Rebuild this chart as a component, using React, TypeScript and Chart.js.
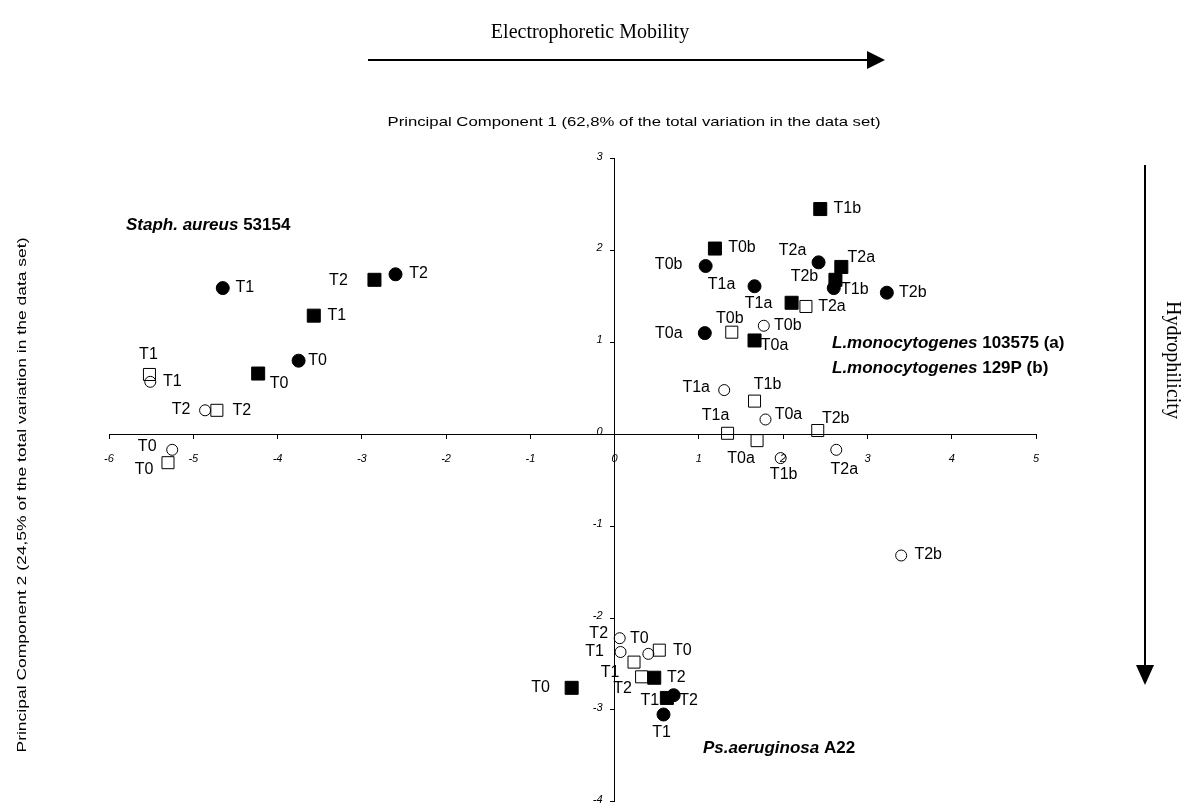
import React, { useEffect, useRef } from "react";
import { Chart, registerables } from "chart.js";

Chart.register(...registerables);

// ---- Data (PC1, PC2 scores) ----
// Filled circles
const fcX = [-4.65, -2.6, -3.75, 1.08, 1.66, 2.42, 2.6, 3.23, 1.07, 0.7, 0.58];
const fcY = [1.59, 1.74, 0.8, 1.83, 1.61, 1.87, 1.59, 1.54, 1.1, -2.84, -3.05];
const fcText = ["T1", "T2", "T0", "T0b", "T1a", "T2a", "T1b", "T2b", "T0a", "T2", "T1"];
// Filled squares
const fsX = [-3.57, -2.85, -4.23, 2.44, 1.19, 2.69, 2.62, 2.1, 1.66, 0.47, 0.62, -0.51];
const fsY = [1.29, 1.68, 0.66, 2.45, 2.02, 1.82, 1.68, 1.43, 1.02, -2.65, -2.87, -2.76];
const fsText = ["T1", "T2", "T0", "T1b", "T0b", "T2a", "T2b", "T1a", "T0a", "T2", "T1", "T0"];
// Open circles
const ocX = [-5.51, -4.86, -5.25, 1.77, 1.3, 1.79, 1.97, 2.63, 3.4, 0.06, 0.07, 0.4];
const ocY = [0.57, 0.26, -0.17, 1.18, 0.48, 0.16, -0.26, -0.17, -1.32, -2.22, -2.37, -2.39];
const ocText = ["T1", "T2", "T0", "T0b", "T1a", "T0a", "T1b", "T2a", "T2b", "T2", "T1", "T0"];
// Open squares
const osX = [-5.52, -4.72, -5.3, 1.39, 2.27, 1.66, 2.41, 1.34, 1.69, 0.53, 0.23, 0.32];
const osY = [0.65, 0.26, -0.31, 1.11, 1.39, 0.36, 0.04, 0.01, -0.07, -2.35, -2.48, -2.64];
const osText = ["T1", "T2", "T0", "T0b", "T2a", "T1b", "T2b", "T1a", "T0a", "T0", "T1", "T2"];

// Axis ranges
const xMin = -6;
const xMax = 5;
const yMin = -4;
const yMax = 3;

// ---- Label placement (pixel offsets of label centre from the marker) ----
const fcLabelOffsets = [[22, 0], [23, -1], [19, 0], [-37, -1], [-33, -2], [-26, -12], [21, 2], [26, 0], [-36, 0], [15, 5], [-2, 18]];
const fsLabelOffsets = [[23, 0], [-36, 1], [21, 10], [27, 0], [27, -1], [20, -9], [-31, -3], [-33, 1], [20, 5], [22, 0], [-17, 3], [-31, 0]];
const ocLabelOffsets = [[22, 0], [-24, -1], [-25, -3], [24, 0], [-28, -2], [23, -5], [3, 16], [8, 20], [27, -1], [-21, -5], [-26, 0], [-9, -15]];
const osLabelOffsets = [[-1, -20], [25, 0], [-24, 7], [-2, -14], [26, 0], [13, -17], [18, -12], [-12, -18], [-16, 18], [23, 0], [-24, 10], [-19, 12]];

const SANS = '"Liberation Sans", Arial, sans-serif';
const SERIF = '"Liberation Serif", "Times New Roman", serif';

const toPoints = (xs: number[], ys: number[]) => xs.map((x, i) => ({ x, y: ys[i] }));

function drawFitted(ctx: CanvasRenderingContext2D, text: string, cx: number, cy: number, width: number, rot: number) {
  ctx.save();
  ctx.translate(cx, cy);
  ctx.rotate(rot);
  const w = ctx.measureText(text).width;
  ctx.scale(width / w, 1);
  ctx.textAlign = "center";
  ctx.textBaseline = "middle";
  ctx.fillText(text, 0, 0);
  ctx.restore();
}

function drawMixed(ctx: CanvasRenderingContext2D, parts: [string, string][], x: number, y: number) {
  let cx = x;
  ctx.textAlign = "left";
  ctx.textBaseline = "middle";
  for (const [t, f] of parts) {
    ctx.font = f;
    ctx.fillText(t, cx, y);
    cx += ctx.measureText(t).width;
  }
}

const pointLabelPlugin = {
  id: "pointLabels",
  afterDatasetsDraw(chart: any) {
    const ctx = chart.ctx as CanvasRenderingContext2D;
    ctx.save();
    ctx.font = `16px ${SANS}`;
    ctx.fillStyle = "#000";
    ctx.textAlign = "center";
    ctx.textBaseline = "middle";
    chart.data.datasets.forEach((ds: any, di: number) => {
      const meta = chart.getDatasetMeta(di);
      meta.data.forEach((el: any, i: number) => {
        const off = ds.labelOffsets[i];
        ctx.fillText(ds.labelTexts[i], el.x + off[0], el.y + off[1]);
      });
    });
    ctx.restore();
  },
};

// y tick labels, placed left of the crossing y axis
const yTickLabelPlugin = {
  id: "yTickLabels",
  afterDraw(chart: any) {
    const ctx = chart.ctx as CanvasRenderingContext2D;
    const ys = chart.scales.y;
    const xs = chart.scales.x;
    const axisX = xs.getPixelForValue(0);
    ctx.save();
    ctx.font = `italic 11px ${SANS}`;
    ctx.fillStyle = "#000";
    ctx.textAlign = "right";
    ctx.textBaseline = "middle";
    ys.ticks.forEach((t: any) => {
      ctx.fillText(String(t.value), axisX - 12, ys.getPixelForValue(t.value) - 2);
    });
    ctx.restore();
  },
};

const decorPlugin = {
  id: "decor",
  afterDraw(chart: any) {
    const ctx = chart.ctx as CanvasRenderingContext2D;
    ctx.save();
    ctx.fillStyle = "#000";
    ctx.strokeStyle = "#000";

    // Electrophoretic Mobility + arrow
    ctx.font = `20px ${SERIF}`;
    ctx.textAlign = "center";
    ctx.textBaseline = "middle";
    ctx.fillText("Electrophoretic Mobility", 590, 33);
    ctx.lineWidth = 2;
    ctx.beginPath();
    ctx.moveTo(368, 60);
    ctx.lineTo(870, 60);
    ctx.stroke();
    ctx.beginPath();
    ctx.moveTo(867, 51);
    ctx.lineTo(885, 60);
    ctx.lineTo(867, 69);
    ctx.closePath();
    ctx.fill();

    // Hydrophilicity + arrow
    ctx.beginPath();
    ctx.moveTo(1145, 165);
    ctx.lineTo(1145, 668);
    ctx.stroke();
    ctx.beginPath();
    ctx.moveTo(1136, 665);
    ctx.lineTo(1145, 685);
    ctx.lineTo(1154, 665);
    ctx.closePath();
    ctx.fill();
    ctx.save();
    ctx.translate(1172, 360);
    ctx.rotate(Math.PI / 2);
    ctx.font = `20px ${SERIF}`;
    ctx.textAlign = "center";
    ctx.textBaseline = "middle";
    ctx.fillText("Hydrophilicity", 0, 0);
    ctx.restore();

    // Axis titles
    ctx.font = `13px ${SANS}`;
    drawFitted(ctx, "Principal Component 1 (62,8% of the total variation in the data set)", 634, 122, 493, 0);
    drawFitted(ctx, "Principal Component 2 (24,5% of the total variation in the data set)", 22, 495, 515, -Math.PI / 2);

    // Group names
    drawMixed(ctx, [["Staph. aureus", `italic bold 17px ${SANS}`], [" 53154", `bold 17px ${SANS}`]], 126, 225);
    drawMixed(ctx, [["L.monocytogenes", `italic bold 17px ${SANS}`], [" 103575 (a)", `bold 17px ${SANS}`]], 832, 343);
    drawMixed(ctx, [["L.monocytogenes", `italic bold 17px ${SANS}`], [" 129P (b)", `bold 17px ${SANS}`]], 832, 368);
    drawMixed(ctx, [["Ps.aeruginosa", `italic bold 17px ${SANS}`], [" A22", `bold 17px ${SANS}`]], 703, 748);

    ctx.restore();
  },
};

export default function App() {
  const ref = useRef<HTMLCanvasElement | null>(null);

  useEffect(() => {
    if (!ref.current) return;
    const tickFont = { family: SANS, size: 11, style: "italic" as const };
    const chart = new Chart(ref.current, {
      type: "scatter",
      data: {
        datasets: [
          {
            label: "filled circles",
            data: toPoints(fcX, fcY),
            pointStyle: "circle",
            pointRadius: 6.5,
            backgroundColor: "#000",
            borderColor: "#000",
            borderWidth: 1,
            labelTexts: fcText,
            labelOffsets: fcLabelOffsets,
          } as any,
          {
            label: "filled squares",
            data: toPoints(fsX, fsY),
            pointStyle: "rect",
            pointRadius: 9.2,
            backgroundColor: "#000",
            borderColor: "#000",
            borderWidth: 1,
            labelTexts: fsText,
            labelOffsets: fsLabelOffsets,
          } as any,
          {
            label: "open circles",
            data: toPoints(ocX, ocY),
            pointStyle: "circle",
            pointRadius: 5.5,
            backgroundColor: "rgba(0,0,0,0)",
            borderColor: "#000",
            borderWidth: 1,
            labelTexts: ocText,
            labelOffsets: ocLabelOffsets,
          } as any,
          {
            label: "open squares",
            data: toPoints(osX, osY),
            pointStyle: "rect",
            pointRadius: 8.5,
            backgroundColor: "rgba(0,0,0,0)",
            borderColor: "#000",
            borderWidth: 1,
            labelTexts: osText,
            labelOffsets: osLabelOffsets,
          } as any,
        ],
      },
      options: {
        responsive: false,
        animation: false,
        devicePixelRatio: 1,
        layout: { padding: { left: 109, right: 165, top: 158.5, bottom: 2 } },
        plugins: {
          legend: { display: false },
          tooltip: { enabled: false },
        },
        scales: {
          x: {
            type: "linear",
            min: xMin,
            max: xMax,
            position: { y: 0 } as any,
            ticks: { stepSize: 1, font: tickFont, color: "#000", padding: 14, autoSkip: false, maxRotation: 0 },
            grid: { drawOnChartArea: false, drawTicks: true, tickLength: 4, color: "#000" },
            border: { display: true, color: "#000", width: 1 },
          },
          y: {
            type: "linear",
            min: yMin,
            max: yMax,
            position: { x: 0 } as any,
            ticks: { stepSize: 1, display: false },
            grid: { drawOnChartArea: false, drawTicks: true, tickLength: 4, color: "#000" },
            border: { display: true, color: "#000", width: 1 },
          },
        },
      },
      plugins: [pointLabelPlugin, yTickLabelPlugin, decorPlugin],
    });
    return () => chart.destroy();
  }, []);

  return (
    <div style={{ position: "fixed", left: 0, top: 0, width: 1201, height: 812, background: "#fff" }}>
      <canvas ref={ref} width={1201} height={812} style={{ display: "block" }} />
    </div>
  );
}
